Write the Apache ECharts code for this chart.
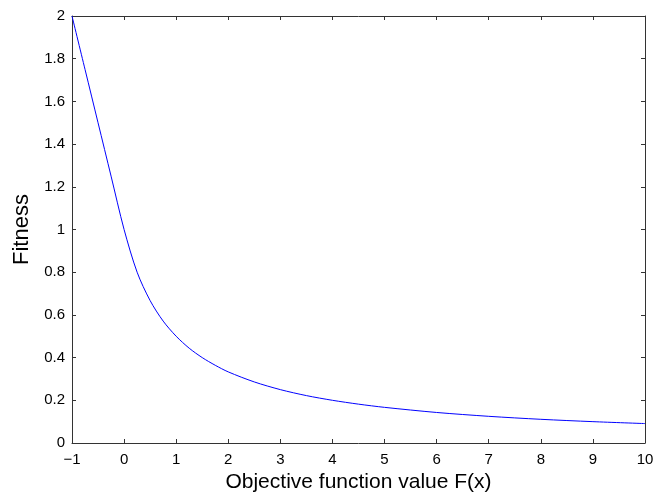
<!DOCTYPE html>
<html>
<head>
<meta charset="utf-8">
<title>Fitness</title>
<script src="https://cdn.jsdelivr.net/npm/echarts@6/dist/echarts.min.js"></script>
<style>
  html, body { margin: 0; padding: 0; background: #fff; }
  #chart { width: 654px; height: 493px; }
</style>
</head>
<body>
<div id="chart"></div>
<script>
// values
var objX = [-1, -0.75, -0.5, -0.25, 0, 0.25, 0.5, 0.75, 1, 1.25, 1.5, 1.75, 2, 2.5, 3, 3.5, 4, 4.5, 5, 6, 7, 8, 9, 10];
var fitY = [2, 1.75, 1.5, 1.25, 1, 0.8, 0.667, 0.571, 0.5, 0.444, 0.4, 0.364, 0.333, 0.286, 0.25, 0.222, 0.2, 0.182, 0.167, 0.143, 0.125, 0.111, 0.1, 0.091];

var xTicks = [-1, 0, 1, 2, 3, 4, 5, 6, 7, 8, 9, 10];
var yTicks = [0, 0.2, 0.4, 0.6, 0.8, 1, 1.2, 1.4, 1.6, 1.8, 2];

var pts = objX.map(function (x, i) { return [x, fitY[i]]; });

var axisCol = '#333';
var font = 'Liberation Sans, Arial, Helvetica, sans-serif';

function baseAxis(extra) {
    var a = {
        axisLine: { show: true, onZero: false, lineStyle: { color: axisCol, width: 1 } },
        axisTick: { show: true, inside: true, length: 4, lineStyle: { color: axisCol } },
        splitLine: { show: false },
        axisLabel: { show: false }
    };
    for (var k in extra) a[k] = extra[k];
    return a;
}

var chart = echarts.init(document.getElementById('chart'));
chart.setOption({
    animation: false,
    grid: { left: 72, right: 9, top: 16, bottom: 50, containLabel: false, outerBoundsMode: 'none' },
    xAxis: [
        baseAxis({
            type: 'value', position: 'bottom', min: -1, max: 10, interval: 1,
            name: 'Objective function value F(x)', nameLocation: 'middle', nameGap: 26,
            nameTextStyle: { color: '#000', fontSize: 21, fontFamily: font },
            axisLabel: {
                show: true, color: '#000', fontSize: 15, fontFamily: font, margin: 9,
                formatter: function (v) { return String(v).replace('-', '\u2212'); }
            }
        }),
        baseAxis({ type: 'value', position: 'top', min: -1, max: 10, interval: 1 })
    ],
    yAxis: [
        baseAxis({
            type: 'value', position: 'left', min: 0, max: 2, interval: 0.2,
            name: 'Fitness', nameLocation: 'middle', nameGap: 33,
            nameTextStyle: { color: '#000', fontSize: 22, fontFamily: font },
            axisLabel: {
                show: true, color: '#000', fontSize: 15, fontFamily: font, margin: 7,
                formatter: function (v) { return String(Math.round(v * 10) / 10); }
            }
        }),
        baseAxis({ type: 'value', position: 'right', min: 0, max: 2, interval: 0.2 })
    ],
    series: [{
        type: 'line',
        data: pts,
        smooth: 0.3,
        showSymbol: false,
        lineStyle: { color: '#0000ff', width: 1 },
        clip: true
    }]
});
</script>
</body>
</html>
